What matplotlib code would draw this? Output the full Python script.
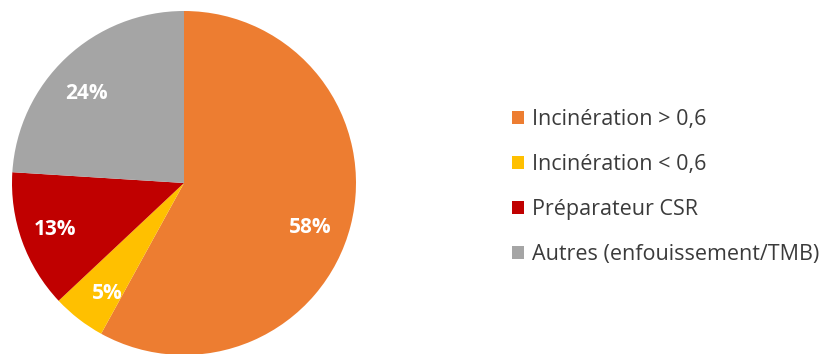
import matplotlib
matplotlib.use("Agg")
import matplotlib.pyplot as plt
import numpy as np

categories = ["Incinération > 0,6", "Incinération < 0,6", "Préparateur CSR", "Autres (enfouissement/TMB)"]
values = [58, 5, 13, 24]
colors = ["#ED7D31", "#FFC000", "#C00000", "#A5A5A5"]
# label placement (style): radial distance and angular nudge in degrees
label_radius = [0.78, 0.78, 0.80, 0.77]
label_nudge = [-5, 3, 0, 4]

plt.rcParams['font.family'] = ['Open Sans', 'DejaVu Sans']

W, H = 825, 354
fig = plt.figure(figsize=(W / 100, H / 100), dpi=100)
cx, cy, r = 184, 354 - 183, 172
ax = fig.add_axes([(cx - r) / W, (cy - r) / H, 2 * r / W, 2 * r / H])

wedges, texts, autotexts = ax.pie(
    values, colors=colors, startangle=90, counterclock=False,
    autopct=lambda p: f"{p:.0f}%", pctdistance=0.75, radius=1,
    wedgeprops=dict(linewidth=0),
    textprops=dict(color="white", fontsize=15, fontweight="bold"))
ax.set_xlim(-1, 1)
ax.set_ylim(-1, 1)
ax.set_aspect("equal")

for w, t, rad, nd in zip(wedges, autotexts, label_radius, label_nudge):
    ang = np.deg2rad((w.theta1 + w.theta2) / 2 + nd)
    t.set_position((rad * np.cos(ang), rad * np.sin(ang)))

fig.legend(wedges, categories, loc="center left", bbox_to_anchor=(492.5 / W, 0.472),
           frameon=False, fontsize=15.5, handlelength=0.56, handleheight=0.56,
           handletextpad=0.37, labelspacing=1.12, labelcolor="#3b3b3b")

fig.savefig("out.png", dpi=100)
